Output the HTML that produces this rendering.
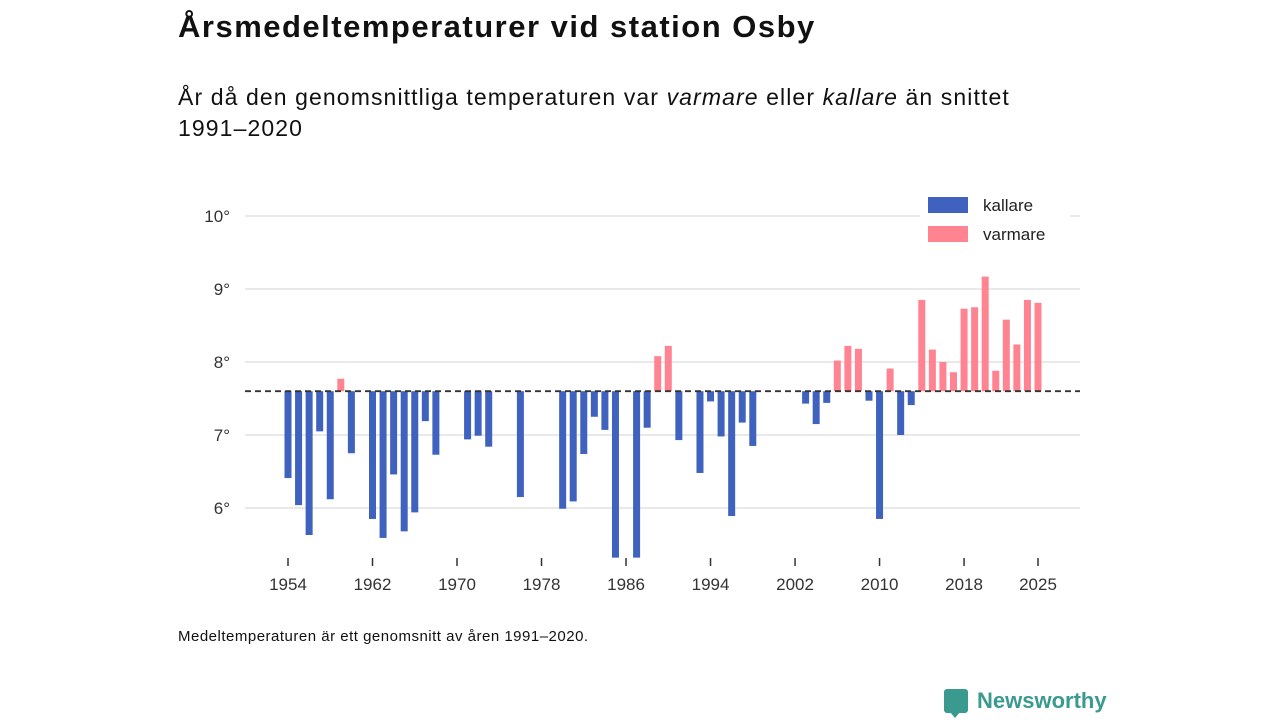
<!DOCTYPE html>
<html><head><meta charset="utf-8"><style>
body{margin:0;width:1280px;height:720px;background:#fff;font-family:"Liberation Sans","DejaVu Sans",sans-serif;color:#111;position:relative;overflow:hidden}
.t{position:absolute;white-space:nowrap}
</style></head><body>
<div class="t" style="left:178px;top:9px;font-size:31px;font-weight:bold;letter-spacing:1.5px">Årsmedeltemperaturer vid station Osby</div>
<div class="t" style="left:178px;top:82px;font-size:23px;line-height:31px;white-space:normal;width:870px;letter-spacing:1.1px">År då den genomsnittliga temperaturen var <i>varmare</i> eller <i>kallare</i> än snittet <span style="white-space:nowrap">1991–2020</span></div>
<svg id="chart" width="1280" height="720" style="position:absolute;left:0;top:0;pointer-events:none"></svg>
<div class="t" style="left:178px;top:628px;font-size:15px;letter-spacing:0.5px">Medeltemperaturen är ett genomsnitt av åren 1991–2020.</div>
<div style="position:absolute;left:944px;top:689px;width:24px;height:24px;background:#3b9a8f;border-radius:3px"></div>
<div style="position:absolute;left:950px;top:712px;width:0;height:0;border-left:5px solid transparent;border-right:5px solid transparent;border-top:6px solid #3b9a8f"></div>
<div class="t" style="left:977px;top:688px;font-size:22px;font-weight:bold;color:#3b9a8f">Newsworthy</div>
<script>
const years=[1954,1955,1956,1957,1958,1959,1960,1962,1963,1964,1965,1966,1967,1968,1971,1972,1973,1976,1980,1981,1982,1983,1984,1985,1987,1988,1989,1990,1991,1993,1994,1995,1996,1997,1998,2003,2004,2005,2006,2007,2008,2009,2010,2011,2012,2013,2014,2015,2016,2017,2018,2019,2020,2021,2022,2023,2024,2025];
const temps=[6.41,6.04,5.63,7.05,6.12,7.77,6.75,5.85,5.59,6.46,5.68,5.94,7.19,6.73,6.94,6.99,6.84,6.15,5.99,6.09,6.74,7.25,7.07,5.32,5.32,7.1,8.08,8.22,6.93,6.48,7.46,6.98,5.89,7.17,6.85,7.43,7.15,7.44,8.02,8.22,8.18,7.47,5.85,7.91,7.0,7.41,8.85,8.17,8.0,7.86,8.73,8.75,9.17,7.88,8.58,8.24,8.85,8.81];
const avg=7.6;
const yTicks=[6,7,8,9,10];
const xTicks=[1954,1962,1970,1978,1986,1994,2002,2010,2018,2025];
const NS='http://www.w3.org/2000/svg';
const svg=document.getElementById('chart');
const x=v=>288+(v-1954)*(750/71);
const y=v=>216+(10-v)*73;
function mk(t,a){const e=document.createElementNS(NS,t);for(const k in a)e.setAttribute(k,a[k]);svg.appendChild(e);return e;}
yTicks.forEach(v=>{
  const l=mk('line',{x1:245,x2:1080,y1:y(v),y2:y(v),stroke:'#dcdcdc','stroke-width':1.3});
  
  
  const t=mk('text',{x:230,y:y(v)+6,'text-anchor':'end','font-size':17,fill:'#333','font-family':'Liberation Sans, sans-serif'});
  t.textContent=v+'°';
  
  
});
years.forEach((yr,i)=>{
  const v=temps[i];const top=Math.min(y(v),y(avg));const h=Math.abs(y(v)-y(avg));
  const r=mk('rect',{x:x(yr)-3.5,y:top,width:7,height:h,fill:v>avg?'#ff8390':'#3f62bf'});
  
  
});
const d=mk('line',{x1:245,x2:1080,y1:y(avg),y2:y(avg),stroke:'#333','stroke-width':1.8,'stroke-dasharray':'6,4'});


xTicks.forEach(v=>{
  const l=mk('line',{x1:x(v),x2:x(v),y1:558,y2:566,stroke:'#333','stroke-width':1.5});
  
  
  const t=mk('text',{x:x(v),y:590,'text-anchor':'middle','font-size':17,fill:'#333','font-family':'Liberation Sans, sans-serif'});
  t.textContent=v;
  
  
});
const lb=mk('rect',{x:920,y:190,width:150,height:62,fill:'#fff'});


[['kallare','#3f62bf',197],['varmare','#ff8390',226]].forEach(([n,c,yy])=>{
  const s=mk('rect',{x:928,y:yy,width:40,height:16,fill:c});
  
  
  const t=mk('text',{x:983,y:yy+14,'font-size':17,fill:'#222','font-family':'Liberation Sans, sans-serif'});
  t.textContent=n;
  
  
});
</script>
</body></html>
